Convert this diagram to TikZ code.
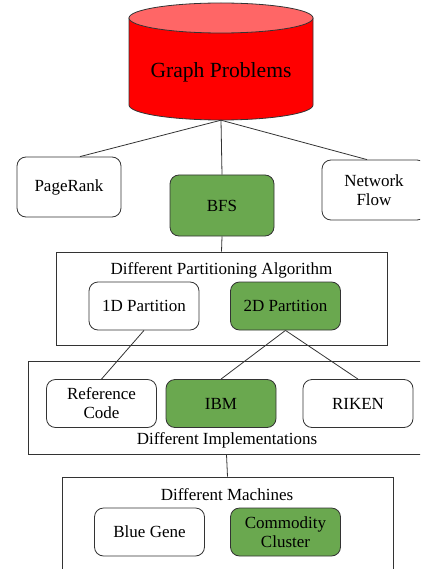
\documentclass[tikz,border=0pt]{standalone}
\usepackage{fontspec}
\setmainfont{Liberation Serif}
\usetikzlibrary{shapes.geometric}
\usetikzlibrary{positioning}
\definecolor{boxgreen}{HTML}{6AA84F}
\definecolor{darkline}{HTML}{333333}

\begin{document}
\begin{tikzpicture}[x=1pt, y=-1pt,
        every node/.style={font=\rmfamily\fontsize{17}{19}\selectfont},
        block/.style={draw=darkline, line width=0.8pt, rounded corners=9pt, align=center, inner sep=0pt, minimum width=110pt, minimum height=48pt, font=\rmfamily\fontsize{17}{19}\selectfont},
        topblock/.style={block, minimum width=104pt, minimum height=60pt},
        green/.style={fill=boxgreen},
        group/.style={draw=darkline, line width=0.8pt, inner sep=0pt},
        link/.style={draw=darkline, line width=0.8pt}]
    \useasboundingbox (0,0) rectangle (420,569);
    \clip (0,0) rectangle (420,569);

    % Problem at the top (drawn cylinder)
    \filldraw[fill=red, draw=darkline, line width=0.8pt] (129,18) -- (129,105)
        arc[start angle=180, end angle=360, x radius=92pt, y radius=15pt] -- (313,18) -- cycle;
    \filldraw[fill=red!60, draw=darkline, line width=0.8pt] (221,18) ellipse [x radius=92pt, y radius=15pt];
    \node[minimum width=184pt, minimum height=96pt, inner sep=0pt,
          font=\rmfamily\fontsize{21.6}{24}\selectfont] (graph) at (221,72) {Graph Problems};

    \node[topblock] (pagerank) at (69,187) {PageRank};
    \node[topblock, green, minimum height=61pt] (bfs) at (222,205.5) {BFS};
    \node[topblock] (flow) at (374,190) {Network\\Flow};

    % Partitioning
    \node[group, minimum width=331pt, minimum height=93pt] (algo) at (221.5,298.5) {};
    \node (algotitle) at (221.5,270) {Different Partitioning Algorithm};
    \node[block] (onedim) at (144,306) {1D Partition};
    \node[block, green] (twodim) at (285.5,306) {2D Partition};

    % Implementations
    \node[group, minimum width=397pt, minimum height=93pt] (impl) at (226.5,407.5) {};
    \node (impltitle) at (227,440) {Different Implementations};
    \node[block] (refcode) at (101.5,403.5) {Reference\\Code};
    \node[block, green] (ibm) at (221,403.5) {IBM};
    \node[block] (riken) at (358,403.5) {RIKEN};

    % Machines
    \node[group, minimum width=331pt, minimum height=103pt] (mach) at (227.5,528.5) {};
    \node (machtitle) at (227,495) {Different Machines};
    \node[block] (bluegene) at (149.5,532) {Blue Gene};
    \node[block, green] (commodity) at (285.5,532) {Commodity\\Cluster};

    \draw[link] (graph.south) -- ([xshift=11pt]pagerank.north);
    \draw[link] (graph.south) -- (bfs.north);
    \draw[link] (graph.south) -- ([xshift=-7pt]flow.north);
    \draw[link] (bfs.south) -- (algo.north);
    \draw[link] (onedim.south) -- (refcode.north);
    \draw[link] (twodim.south) -- (ibm.north);
    \draw[link] (twodim.south) -- (riken.north);
    \draw[link] (impl.south) -- (mach.north);
\end{tikzpicture}
\end{document}
